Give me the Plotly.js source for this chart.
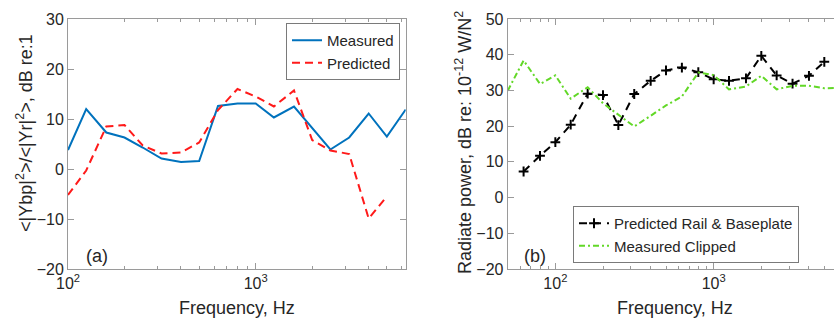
<!DOCTYPE html>
<html>
<head>
<meta charset="utf-8">
<script src="https://cdn.plot.ly/plotly-3.0.1.min.js"></script>
<style>
html,body{margin:0;padding:0;background:#fff;overflow:hidden;}
#chart{width:834px;height:327px;}
</style>
</head>
<body>
<div id="chart"></div>
<script>
// ---- Panel (a) data ----
const freqMeasuredA = [100,125,160,200,250,315,400,500,630,800,1000,1250,1600,2000,2500,3150,4000,5000,6300];
const measuredA     = [3.8,12.0,7.3,6.3,4.3,2.1,1.4,1.6,12.6,13.1,13.1,10.3,12.5,8.3,3.9,6.3,11.1,6.5,11.9];
const freqPredictedA = [100,125,160,200,250,315,400,500,630,800,1000,1250,1600,2000,2500,3150,4000,5000];
const predictedA     = [-5.2,-0.3,8.5,8.8,4.7,3.1,3.3,5.3,11.8,16.0,14.5,12.5,15.7,5.8,3.7,3.0,-9.9,-5.5];

// ---- Panel (b) data ----
const freqPredB = [63,80,100,125,160,200,250,315,400,500,630,800,1000,1250,1600,2000,2500,3150,4000,5000];
const predRailBaseplate = [7.3,11.7,15.5,20.4,29.1,28.7,20.3,29.0,32.7,35.6,36.4,35.1,33.1,32.7,33.4,39.7,34.2,31.9,34.1,38.0];
const freqMeasB = [50,63,80,100,125,160,200,250,315,400,500,630,800,1000,1250,1600,2000,2500,3150,4000,5000,6300];
const measuredClipped = [29.9,38.4,31.8,34.2,27.7,30.9,26.4,23.2,19.9,22.9,25.8,28.3,35.0,34.3,30.3,31.1,34.1,30.3,31.3,31.3,30.6,30.7];

// ---- Tick labels ----
const decadeVals = [100,1000];
const decadeText = ['10<sup>2</sup>','10<sup>3</sup>'];
const minorVals = [20,30,40,50,60,70,80,90,200,300,400,500,600,700,800,900,2000,3000,4000,5000,6000,7000,8000,9000];
const yTicksA = [-20,-10,0,10,20,30];
const yTicksB = [-20,-10,0,10,20,30,40,50];

const W = 834, H = 327;
const FONT = 'Liberation Sans, Arial, Helvetica, sans-serif';
const TXT = '#262626';
const AX = '#9a9a9a';

const traces = [
  {x: freqMeasuredA, y: measuredA, name: 'Measured', type: 'scatter', mode: 'lines',
   line: {color: '#0072BD', width: 2}, xaxis: 'x', yaxis: 'y', legend: 'legend'},
  {x: freqPredictedA, y: predictedA, name: 'Predicted', type: 'scatter', mode: 'lines',
   line: {color: '#FF1A1A', width: 2, dash: '8px,5px'}, xaxis: 'x', yaxis: 'y', legend: 'legend'},
  {x: freqPredB, y: predRailBaseplate, name: 'Predicted Rail &amp; Baseplate', type: 'scatter', mode: 'lines+markers',
   line: {color: '#000000', width: 2, dash: '8px,6px'},
   marker: {symbol: 'cross-thin', size: 7, color: '#000', line: {color: '#000', width: 2}},
   xaxis: 'x2', yaxis: 'y2', legend: 'legend2'},
  {x: freqMeasB, y: measuredClipped, name: 'Measured Clipped', type: 'scatter', mode: 'lines',
   line: {color: '#62d827', width: 2, dash: '6px,3px,2px,3px'}, xaxis: 'x2', yaxis: 'y2', legend: 'legend2'}
];

function xAxis(domain, range) {
  return {
    type: 'log', domain: domain, range: range,
    tickmode: 'array', tickvals: decadeVals, ticktext: decadeText,
    ticks: 'inside', ticklen: 6, tickcolor: AX, tickwidth: 1,
    showline: true, linecolor: AX, linewidth: 1, mirror: 'ticks',
    showgrid: false, zeroline: false,
    tickfont: {family: FONT, size: 16, color: TXT},
    minor: {tickmode: 'array', tickvals: minorVals, ticks: 'inside', ticklen: 3, tickcolor: AX, showgrid: false}
  };
}

const layout = {
  width: W, height: H,
  margin: {l: 0, r: 0, t: 0, b: 0},
  paper_bgcolor: '#fff', plot_bgcolor: '#fff',
  font: {family: FONT, color: TXT},
  xaxis: Object.assign(xAxis([68/W, 405.7/W], [2, Math.log10(6300)]), {anchor: 'y'}),
  yaxis: {domain: [(H-269)/H, (H-19)/H], range: [-20, 30], anchor: 'x',
    tickmode: 'array', tickvals: yTicksA, ticksuffix: '\u00a0',
    ticks: 'inside', ticklen: 6, tickcolor: AX, showline: true, linecolor: AX, mirror: 'ticks',
    showgrid: false, zeroline: false, tickfont: {family: FONT, size: 16, color: TXT}},
  xaxis2: Object.assign(xAxis([507.7/W, 1], [Math.log10(50), Math.log10(50) + (834-507.7)/158.3]), {anchor: 'y2'}),
  yaxis2: {domain: [(H-269)/H, (H-19)/H], range: [-20, 50], anchor: 'x2',
    tickmode: 'array', tickvals: yTicksB,
    ticks: 'inside', ticklen: 6, tickcolor: AX, showline: true, linecolor: AX, mirror: false,
    showgrid: false, zeroline: false, tickfont: {family: FONT, size: 16, color: TXT}},
  legend: {x: 400/W, xanchor: 'right', y: (H-23)/H, yanchor: 'top',
    bgcolor: '#fff', bordercolor: '#7a7a7a', borderwidth: 1,
    font: {family: FONT, size: 15, color: TXT}, tracegroupgap: 0, itemwidth: 30},
  legend2: {x: 573/W, xanchor: 'left', y: (H-206)/H, yanchor: 'top',
    bgcolor: '#fff', bordercolor: '#7a7a7a', borderwidth: 1,
    font: {family: FONT, size: 15, color: TXT}, tracegroupgap: 0, itemwidth: 30},
  annotations: [
    {text: 'Frequency, Hz', xref: 'paper', yref: 'paper', x: 236.8/W, y: (H-308)/H,
     xanchor: 'center', yanchor: 'middle', showarrow: false, font: {family: FONT, size: 18, color: TXT}},
    {text: 'Frequency, Hz', xref: 'paper', yref: 'paper', x: 675/W, y: (H-308)/H,
     xanchor: 'center', yanchor: 'middle', showarrow: false, font: {family: FONT, size: 18, color: TXT}},
    {text: '&lt;|Ybp|<sup>2</sup>&gt;/&lt;|Yr|<sup>2</sup>&gt;, dB re:1', xref: 'paper', yref: 'paper',
     x: 24/W, y: (H-133)/H, xanchor: 'center', yanchor: 'middle', textangle: -90, showarrow: false,
     font: {family: FONT, size: 18, color: TXT}},
    {text: 'Radiate power, dB re: 10<sup>-12</sup> W/N<sup>2</sup>', xref: 'paper', yref: 'paper',
     x: 463/W, y: (H-143)/H, xanchor: 'center', yanchor: 'middle', textangle: -90, showarrow: false,
     font: {family: FONT, size: 18, color: TXT}},
    {text: '(a)', xref: 'paper', yref: 'paper', x: 96.5/W, y: (H-256)/H,
     xanchor: 'center', yanchor: 'middle', showarrow: false, font: {family: FONT, size: 18, color: TXT}},
    {text: '(b)', xref: 'paper', yref: 'paper', x: 535/W, y: (H-256)/H,
     xanchor: 'center', yanchor: 'middle', showarrow: false, font: {family: FONT, size: 18, color: TXT}}
  ]
};

Plotly.newPlot('chart', traces, layout, {staticPlot: true, displayModeBar: false});
</script>
</body>
</html>
